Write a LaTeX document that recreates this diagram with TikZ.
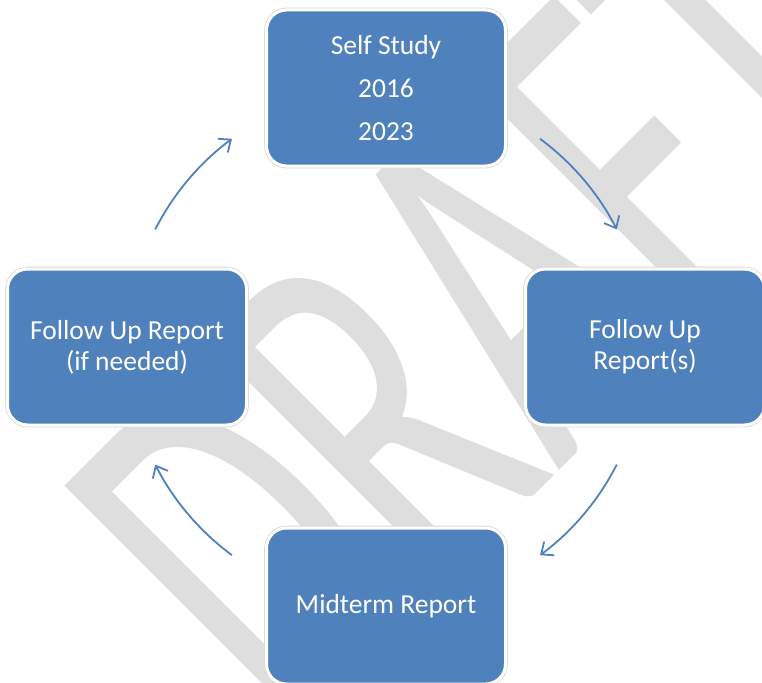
\documentclass[tikz,border=0pt]{standalone}
\usepackage{fontspec}
\setmainfont{Carlito}
\usetikzlibrary{arrows.meta}
\definecolor{boxblue}{RGB}{79,129,189}
\definecolor{wmgray}{RGB}{222,222,222}

\begin{document}
\begin{tikzpicture}[x=1pt,y=1pt] % 1 unit = 1 px of the page
\tikzstyle{stage} = [rectangle, rounded corners=20pt, fill=boxblue, draw=white, line width=3pt, preaction={draw=black!15, line width=4.6pt}, minimum width=239pt, minimum height=156pt, text=white, align=center, font=\fontsize{27.5}{31}\selectfont] % box of one stage
\tikzstyle{cyc} = [draw=boxblue, line width=1.8pt, -{Straight Barb[length=10pt,width=17pt]}] % arrow between stages
\tikzstyle{watermark} = [text=wmgray, font=\fontsize{330}{330}\selectfont, inner sep=0pt, anchor=base west, rotate=45, yscale=1.6] % big grey text behind

\useasboundingbox (0,0) rectangle (762,-682);
\clip (0,0) rectangle (762,-682);

\node[watermark] (draft) at (288,-742) {DRAFT}; % background

\coordinate (hub) at (386,-347); % centre of the cycle
\node[stage] (self) at (386,-88) {Self Study\\[12pt]2016\\[12pt]2023};
\node[stage] (followup) at (645,-347) {Follow Up\\Report(s)};
\node[stage] (midterm) at (386,-606) {Midterm Report};
\node[stage] (ifneeded) at (127,-347) {Follow Up Report\\(if needed)};

\draw[cyc] ([shift={(53.5:259)}]hub) arc[start angle=53.5, end angle=27, radius=259]; % self -> followup
\draw[cyc] ([shift={(-27:259)}]hub) arc[start angle=-27, end angle=-53.5, radius=259]; % followup -> midterm
\draw[cyc] ([shift={(-126.5:259)}]hub) arc[start angle=-126.5, end angle=-153, radius=259]; % midterm -> ifneeded
\draw[cyc] ([shift={(153:259)}]hub) arc[start angle=153, end angle=126.5, radius=259]; % ifneeded -> self
\end{tikzpicture}
\end{document}
